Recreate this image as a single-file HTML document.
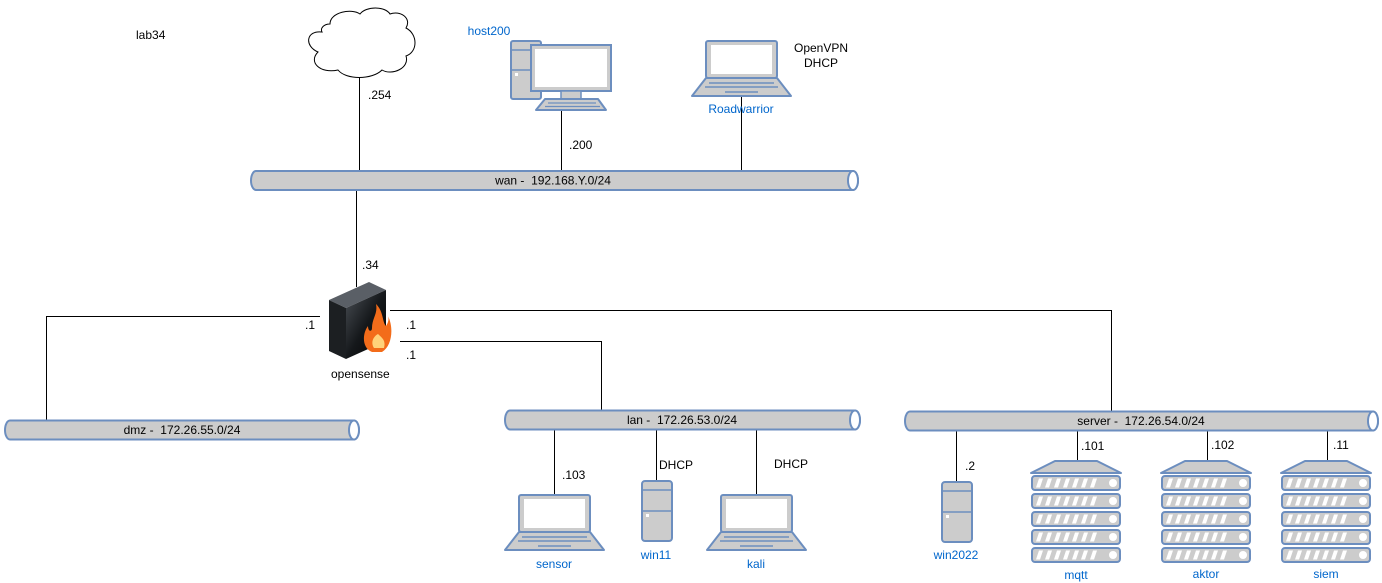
<!DOCTYPE html>
<html><head><meta charset="utf-8"><style>
html,body{margin:0;padding:0;background:#fff;}
svg{display:block;font-family:"Liberation Sans",Arial,sans-serif;font-size:12px;}
.b{fill:#0066cc;}
</style></head><body>
<svg width="1382" height="583" viewBox="0 0 1382 583" xmlns="http://www.w3.org/2000/svg">
<defs>
<g id="laptop">
<rect x="14" y="1" width="71" height="37" rx="2" fill="#ccc" stroke="#6c8ebf" stroke-width="2"/>
<rect x="19" y="5" width="61" height="29" fill="#fff"/>
<polygon points="14,38 85,38 99,56 0,56" fill="#ccc" stroke="#6c8ebf" stroke-width="2" stroke-linejoin="round"/>
<line x1="17" y1="43" x2="82" y2="43" stroke="#6c8ebf" stroke-width="1.5"/>
<line x1="13" y1="47" x2="86" y2="47" stroke="#6c8ebf" stroke-width="1.5"/>
<line x1="33" y1="52" x2="66" y2="52" stroke="#6c8ebf" stroke-width="1.5"/>
</g>
<g id="tower">
<rect x="1" y="1" width="30" height="60" rx="3" fill="#ccc" stroke="#6c8ebf" stroke-width="2"/>
<line x1="1" y1="10" x2="31" y2="10" stroke="#6c8ebf" stroke-width="1.5"/>
<line x1="1" y1="31" x2="31" y2="31" stroke="#6c8ebf" stroke-width="1.5"/>
<rect x="5" y="34" width="3" height="3" fill="#fff"/>
</g>
<g id="unit">
<rect x="1" y="0" width="88" height="14" rx="3" fill="#ccc" stroke="#6c8ebf" stroke-width="2"/>
<path d="M5,11.5 l3,-9 h4 l-3,9z M14,11.5 l3,-9 h4 l-3,9z M23,11.5 l3,-9 h4 l-3,9z M32,11.5 l3,-9 h4 l-3,9z M41,11.5 l3,-9 h4 l-3,9z M50,11.5 l3,-9 h4 l-3,9z M59,11.5 l3,-9 h4 l-3,9z" fill="#fff"/>
<circle cx="82" cy="7" r="4" fill="#fff"/>
</g>
<g id="rack">
<polygon points="24,0 66,0 90,12 0,12" fill="#ccc" stroke="#6c8ebf" stroke-width="2" stroke-linejoin="round"/>
<use href="#unit" y="15"/><use href="#unit" y="33"/><use href="#unit" y="51"/><use href="#unit" y="69"/><use href="#unit" y="87"/>
</g>
<linearGradient id="fw" x1="0" y1="0" x2="1" y2="1"><stop offset="0" stop-color="#4a4f55"/><stop offset="0.5" stop-color="#15181b"/><stop offset="1" stop-color="#000"/></linearGradient>
</defs>

<g stroke="#000" stroke-width="1" fill="none">
<line x1="359.5" y1="78" x2="359.5" y2="171"/>
<line x1="561.5" y1="110" x2="561.5" y2="171"/>
<line x1="741.5" y1="90" x2="741.5" y2="171"/>
<line x1="356.5" y1="190" x2="356.5" y2="287"/>
<polyline points="320,316.5 46.5,316.5 46.5,420"/>
<polyline points="390,310.5 1111.5,310.5 1111.5,411"/>
<polyline points="400,341.5 601.5,341.5 601.5,410"/>
<line x1="554.5" y1="430" x2="554.5" y2="495"/>
<line x1="656.5" y1="430" x2="656.5" y2="481"/>
<line x1="756.5" y1="430" x2="756.5" y2="495"/>
<line x1="956.5" y1="431" x2="956.5" y2="482"/>
<line x1="1077.5" y1="431" x2="1077.5" y2="462"/>
<line x1="1207.5" y1="431" x2="1207.5" y2="462"/>
<line x1="1327.5" y1="431" x2="1327.5" y2="462"/>
</g>

<g fill="#ccc" stroke="#6c8ebf" stroke-width="2">
<path d="M256,171 H853 A5,9.5 0 0 1 853,190 H256 A5,9.5 0 0 1 256,171Z"/>
<path d="M10,420.5 H354 A5,9.5 0 0 1 354,439.5 H10 A5,9.5 0 0 1 10,420.5Z"/>
<path d="M510,410.5 H855 A5,9.5 0 0 1 855,429.5 H510 A5,9.5 0 0 1 510,410.5Z"/>
<path d="M910,411.5 H1373 A5,9.5 0 0 1 1373,430.5 H910 A5,9.5 0 0 1 910,411.5Z"/>
</g>
<g fill="#fff" stroke="#6c8ebf" stroke-width="2">
<ellipse cx="853" cy="180.5" rx="5" ry="9.5"/>
<ellipse cx="354" cy="430" rx="5" ry="9.5"/>
<ellipse cx="855" cy="420" rx="5" ry="9.5"/>
<ellipse cx="1373" cy="421" rx="5" ry="9.5"/>
</g>
<g text-anchor="middle" fill="#000">
<text x="553" y="184.5">wan -&#160; 192.168.Y.0/24</text>
<text x="182" y="434">dmz -&#160; 172.26.55.0/24</text>
<text x="682" y="424">lan -&#160; 172.26.53.0/24</text>
<text x="1141" y="425">server -&#160; 172.26.54.0/24</text>
</g>

<path d="M330,24 C330,12 352,8 360,14 C366,6 385,6 390,14 C400,10 412,18 406,28 C418,34 418,52 406,56 C410,68 392,76 382,70 C372,80 346,80 338,70 C320,74 308,62 318,52 C304,46 306,30 322,32 C320,28 324,24 330,24Z" fill="#fff" stroke="#000" stroke-width="1"/>

<rect x="511" y="41" width="30" height="58" rx="2" fill="#ccc" stroke="#6c8ebf" stroke-width="2"/>
<line x1="511" y1="50" x2="541" y2="50" stroke="#6c8ebf" stroke-width="1.5"/>
<line x1="511" y1="70" x2="541" y2="70" stroke="#6c8ebf" stroke-width="1.5"/>
<rect x="515" y="73" width="3" height="3" fill="#fff"/>
<rect x="531" y="45" width="80" height="46" fill="#ccc" stroke="#6c8ebf" stroke-width="2"/>
<rect x="535" y="49" width="72" height="38" fill="#fff"/>
<rect x="561" y="91" width="20" height="8" fill="#ccc" stroke="#6c8ebf" stroke-width="1.5"/>
<polygon points="545,99 598,99 606,110 536,110" fill="#ccc" stroke="#6c8ebf" stroke-width="2" stroke-linejoin="round"/>
<line x1="548" y1="103" x2="596" y2="103" stroke="#6c8ebf" stroke-width="1.2"/>
<line x1="545" y1="106.5" x2="600" y2="106.5" stroke="#6c8ebf" stroke-width="1.2"/>

<use href="#laptop" x="692" y="40"/>
<use href="#laptop" x="505" y="494"/>
<use href="#laptop" x="707" y="494"/>
<use href="#tower" x="641" y="480"/>
<use href="#tower" x="941" y="481"/>
<use href="#rack" x="1031" y="461"/>
<use href="#rack" x="1161" y="461"/>
<use href="#rack" x="1281" y="461"/>

<polygon points="329,300 369,282 386,290 346,308" fill="#5a5f66"/>
<polygon points="329,300 346,308 346,359 329,351" fill="#1c1f22"/>
<polygon points="346,308 386,290 386,341 346,359" fill="url(#fw)"/>
<path d="M372,352 C362,348 362,334 368,326 C368,332 372,332 372,328 C372,318 378,314 376,304 C384,312 382,322 386,326 C390,320 388,316 388,316 C394,328 392,346 382,352Z" fill="#f36c1a"/>
<path d="M374,348 C370,342 374,336 378,334 C382,338 386,340 384,348Z" fill="#ffd27a"/>

<g fill="#000">
<text x="136" y="39">lab34</text>
<text x="368" y="99">.254</text>
<text x="569" y="149">.200</text>
<text x="794" y="52">OpenVPN</text>
<text x="804" y="67">DHCP</text>
<text x="362" y="269">.34</text>
<text x="305" y="329">.1</text>
<text x="406" y="329">.1</text>
<text x="406" y="359">.1</text>
<text x="331" y="378">opensense</text>
<text x="562" y="479">.103</text>
<text x="659" y="469">DHCP</text>
<text x="774" y="468">DHCP</text>
<text x="965" y="470">.2</text>
<text x="1081" y="450">.101</text>
<text x="1211" y="449">.102</text>
<text x="1333" y="449">.11</text>
</g>
<g class="b" text-anchor="middle">
<text x="489" y="35">host200</text>
<text x="741" y="113">Roadwarrior</text>
<text x="554" y="568">sensor</text>
<text x="656" y="559">win11</text>
<text x="756" y="568">kali</text>
<text x="956" y="559">win2022</text>
<text x="1076" y="579">mqtt</text>
<text x="1206" y="578">aktor</text>
<text x="1326" y="578">siem</text>
</g>
</svg>
</body></html>
